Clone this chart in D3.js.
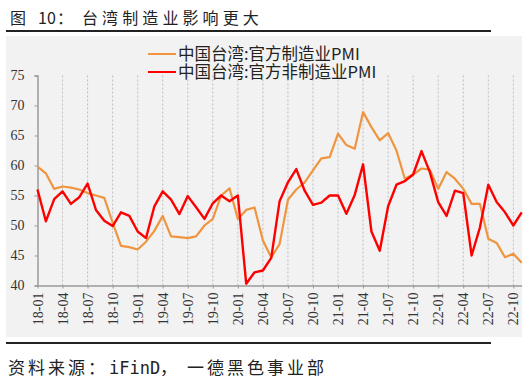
<!DOCTYPE html>
<html><head><meta charset="utf-8">
<script src="https://cdn.jsdelivr.net/npm/d3@7"></script>
<style>
html,body{margin:0;padding:0;background:#fff;}
svg{display:block;}
</style></head>
<body>
<svg id="c" width="530" height="379"></svg>
<script>
const titleParts = ["图", "10", "：", "台湾制造业影响更大"];
const sourceParts = ["资料来源：", "iFinD", "，", "一德黑色事业部"];
const seriesNames = ["中国台湾:官方制造业PMI", "中国台湾:官方非制造业PMI"];
const months = [
 "18-01","18-02","18-03","18-04","18-05","18-06","18-07","18-08","18-09","18-10","18-11","18-12",
 "19-01","19-02","19-03","19-04","19-05","19-06","19-07","19-08","19-09","19-10","19-11","19-12",
 "20-01","20-02","20-03","20-04","20-05","20-06","20-07","20-08","20-09","20-10","20-11","20-12",
 "21-01","21-02","21-03","21-04","21-05","21-06","21-07","21-08","21-09","21-10","21-11","21-12",
 "22-01","22-02","22-03","22-04","22-05","22-06","22-07","22-08","22-09","22-10","22-11"];
const manufacturing = [
 59.8,58.7,56.1,56.5,56.3,56.0,55.4,55.0,54.6,50.5,46.6,46.4,
 46.0,47.3,49.1,51.6,48.2,48.05,47.9,48.2,50.0,51.1,55.0,56.2,
 51.1,52.6,53.0,47.5,44.7,46.9,54.3,56.0,57.2,59.2,61.2,61.4,
 65.3,63.4,62.8,68.9,66.4,64.2,65.4,62.5,57.8,58.5,59.5,59.3,
 56.1,58.9,57.8,56.1,53.6,53.6,47.8,47.1,44.7,45.3,43.8];
const nonManufacturing = [
 56.0,50.7,54.4,55.7,53.6,54.7,57.0,52.6,50.8,49.9,52.2,51.6,
 49.0,47.9,53.2,55.7,54.3,51.9,54.9,53.05,51.1,53.7,55.0,54.05,
 55.0,40.3,42.2,42.5,44.6,54.05,57.2,59.4,55.8,53.45,53.8,55.0,
 55.0,51.95,55.1,60.2,49.0,45.8,53.2,56.8,57.4,58.5,62.4,58.9,
 53.9,51.6,55.8,55.4,45.0,49.7,56.8,53.9,52.2,50.0,52.2];
const yTicks = [40,45,50,55,60,65,70,75];
const xTickLabels = ["18-01","18-04","18-07","18-10","19-01","19-04","19-07","19-10","20-01","20-04","20-07","20-10","21-01","21-04","21-07","21-10","22-01","22-04","22-07","22-10"];

const svg = d3.select("#c");
const colors = ["#F0953F", "#FF0000"];
const cjk = "Noto Sans CJK SC";

// Title
const tX = [10, 38, 57, 82];
titleParts.forEach((t, i) => {
  svg.append("text").attr("x", tX[i]).attr("y", 24)
    .attr("font-family", cjk).attr("font-size", 16).attr("fill", "#222")
    .attr("letter-spacing", i === 3 ? 4.1 : 0).text(t);
});
svg.append("line").attr("x1", 6).attr("x2", 491).attr("y1", 31).attr("y2", 31)
  .attr("stroke", "#222").attr("stroke-width", 2);

// Chart background
svg.append("rect").attr("x", 6).attr("y", 36).attr("width", 516).attr("height", 301).attr("fill", "#f2f2f2");

const x = d3.scalePoint().domain(months).range([37.5, 521.7]);
const y = d3.scaleLinear().domain([40, 75]).range([285.5, 75.5]);

// Grid lines
svg.append("g").selectAll("line").data(xTickLabels.slice(1)).join("line")
  .attr("x1", d => x(d)).attr("x2", d => x(d)).attr("y1", y(75)).attr("y2", y(40))
  .attr("stroke", "#bdbdbd").attr("stroke-width", 1).attr("stroke-dasharray", "2,2");

// Y axis
const yAxis = svg.append("g").attr("transform", `translate(${x(months[0])},0)`)
  .call(d3.axisLeft(y).tickValues(yTicks).tickSize(3).tickPadding(10));
yAxis.select(".domain").attr("stroke", "#9a9a9a").attr("stroke-width", 1.5);
yAxis.selectAll(".tick line").attr("stroke", "#9a9a9a");
yAxis.selectAll(".tick text").attr("font-family", "Liberation Serif").attr("font-size", 14).attr("fill", "#333");

// X axis
const xAxis = svg.append("g").attr("transform", `translate(0,${y(40)})`)
  .call(d3.axisBottom(x).tickValues(xTickLabels).tickSize(3).tickSizeOuter(0));
xAxis.select(".domain").attr("stroke", "#9a9a9a").attr("stroke-width", 1.5);
xAxis.selectAll(".tick line").attr("stroke", "#9a9a9a");
xAxis.selectAll(".tick text").attr("font-family", "Liberation Serif").attr("font-size", 14).attr("fill", "#333")
  .attr("text-anchor", "end").attr("transform", "rotate(-90)").attr("x", -7).attr("y", 0).attr("dy", "0.33em");

// Lines
const series = [manufacturing, nonManufacturing];
const line = d3.line().x((d, i) => x(months[i])).y(d => y(d));
series.forEach((s, k) => {
  svg.append("path").datum(s).attr("d", line).attr("fill", "none")
    .attr("stroke", colors[k]).attr("stroke-width", k === 0 ? 2.2 : 2.4).attr("stroke-linejoin", "round");
});

// Legend
seriesNames.forEach((n, k) => {
  const ly = 54 + k * 18;
  svg.append("line").attr("x1", 148).attr("x2", 176).attr("y1", ly).attr("y2", ly)
    .attr("stroke", colors[k]).attr("stroke-width", 2);
  svg.append("text").attr("x", 178).attr("y", ly + 6).attr("font-family", cjk)
    .attr("font-size", 16.5).attr("fill", "#222").text(n);
});

// Bottom rule and source
svg.append("line").attr("x1", 6).attr("x2", 491).attr("y1", 343).attr("y2", 343)
  .attr("stroke", "#222").attr("stroke-width", 2);
const sX = [8, 109, 160, 187];
const sFont = [cjk, "DejaVu Sans Mono", cjk, cjk];
sourceParts.forEach((t, i) => {
  svg.append("text").attr("x", sX[i]).attr("y", 374)
    .attr("font-family", sFont[i]).attr("font-size", 17).attr("fill", "#222")
    .attr("letter-spacing", (i === 0 || i === 3) ? 3 : 0).text(t);
});
</script>
</body></html>
